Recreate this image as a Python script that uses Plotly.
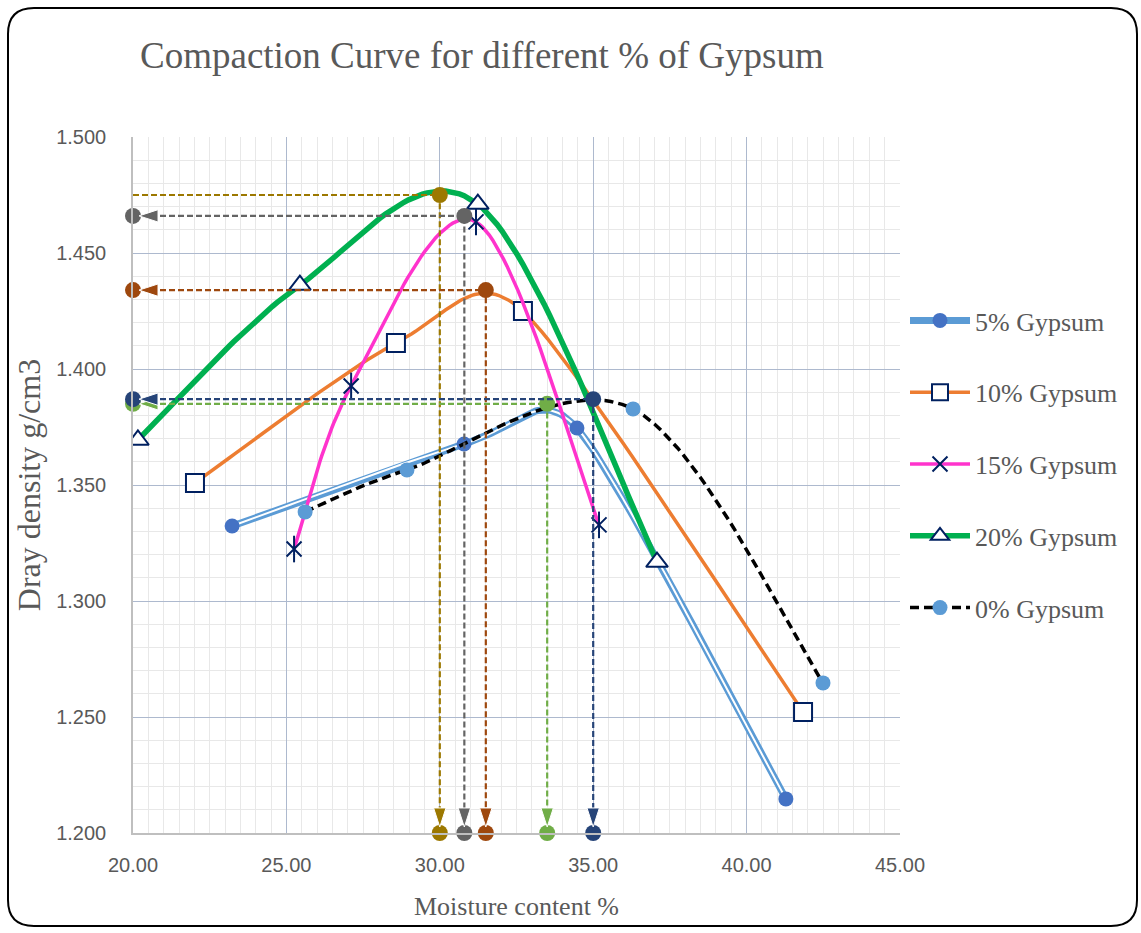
import numpy as np
import plotly.graph_objects as go

# ---- compaction test results: moisture content (%) vs dry density (g/cm3) ----
mc_5 = [23.23, 30.79, 34.47, 41.28]
dd_5 = [1.3323, 1.3677, 1.3746, 1.2147]

mc_10 = [22.02, 28.57, 32.71, 41.84]
dd_10 = [1.3509, 1.4112, 1.4250, 1.2522]

mc_15 = [25.25, 27.11, 31.18, 35.19]
dd_15 = [1.3224, 1.3927, 1.4634, 1.3328]

mc_20 = [20.16, 25.44, 31.24, 37.08]
dd_20 = [1.3694, 1.4362, 1.4711, 1.3168]

mc_0 = [25.61, 28.93, 36.30, 42.49]
dd_0 = [1.3384, 1.3565, 1.3828, 1.2647]

# optimum moisture content / maximum dry density
opt_labels = ["20%", "15%", "10%", "5%", "0%"]
opt_mc = [30.0, 30.8, 31.5, 33.5, 35.0]
opt_dd = [1.475, 1.466, 1.434, 1.385, 1.387]
opt_colors = ["#9C7800", "#646464", "#9E480E", "#70AD47", "#264478"]
opt_left_marker = [False, True, True, True, True]

x_range = [20, 45]
y_range = [1.2, 1.5]
x_ticks = [20, 25, 30, 35, 40, 45]
y_ticks = [1.20, 1.25, 1.30, 1.35, 1.40, 1.45, 1.50]

NAVY = "#002060"
SERIF = "Liberation Serif, Times New Roman, serif"
SANS = "Liberation Sans, Arial, sans-serif"
GREY_TXT = "#595959"

# figure geometry
W, H = 1141, 933
ML, MR, MT, MB = 133, 241, 137, 100
pw, ph = W - ML - MR, H - MT - MB


def smooth_curve(xs, ys, n=40):
    """Bezier smoothing through the measured points (Catmull-Rom style tangents,
    limited to half of the neighbouring segment), computed in screen space."""
    kx = pw / (x_range[1] - x_range[0])
    ky = ph / (y_range[1] - y_range[0])
    p = np.column_stack([np.asarray(xs, float) * kx, np.asarray(ys, float) * ky])
    m = len(p)
    ext = np.vstack([p[0], p, p[-1]])
    seg_len = np.linalg.norm(np.diff(p, axis=0), axis=1)
    tang = []
    for i in range(m):
        v = (ext[i + 2] - ext[i]) / 6
        halves = []
        if i > 0:
            halves.append(seg_len[i - 1] / 2)
        if i < m - 1:
            halves.append(seg_len[i] / 2)
        norm = np.linalg.norm(v)
        cap = min(halves)
        if norm > cap > 0:
            v = v * cap / norm
        tang.append(v)
    out = [p[0]]
    t = np.linspace(0, 1, n)[1:, None]
    for i in range(m - 1):
        p1, p2 = p[i], p[i + 1]
        c1, c2 = p1 + tang[i], p2 - tang[i + 1]
        seg = ((1 - t) ** 3) * p1 + 3 * ((1 - t) ** 2) * t * c1 \
            + 3 * (1 - t) * t ** 2 * c2 + t ** 3 * p2
        out.extend(seg)
    out = np.array(out)
    return out[:, 0] / kx, out[:, 1] / ky


fig = go.Figure()

series = [
    dict(name="5% Gypsum", x=mc_5, y=dd_5,
         lines=[dict(color="#5B9BD5", width=7), dict(color="white", width=2)],
         marker=dict(symbol="circle", size=15, color="#4472C4"),
         extra_marker=None),
    dict(name="10% Gypsum", x=mc_10, y=dd_10,
         lines=[dict(color="#ED7D31", width=3.5)],
         marker=dict(symbol="square", size=18, color="white", line=dict(color=NAVY, width=2)),
         extra_marker=None),
    dict(name="15% Gypsum", x=mc_15, y=dd_15,
         lines=[dict(color="#FF33CC", width=3.5)],
         marker=dict(symbol="x-thin-open", size=15, color=NAVY, line=dict(color=NAVY, width=2)),
         extra_marker=dict(symbol="line-ns-open", size=19, color=NAVY,
                           line=dict(color=NAVY, width=2))),
    dict(name="20% Gypsum", x=mc_20, y=dd_20,
         lines=[dict(color="#00B050", width=5.5)],
         marker=dict(symbol="triangle-up", size=19, color="white", line=dict(color=NAVY, width=2)),
         extra_marker=None),
    dict(name="0% Gypsum", x=mc_0, y=dd_0,
         lines=[dict(color="black", width=3.5, dash="9px,5px")],
         marker=dict(symbol="circle", size=15, color="#5B9BD5"),
         extra_marker=None),
]

for k, s in enumerate(series):
    grp = f"s{k}"
    sx, sy = smooth_curve(s["x"], s["y"])
    for ln in s["lines"]:
        fig.add_trace(go.Scatter(x=sx, y=sy, mode="lines", line=ln, legendgroup=grp,
                                 showlegend=False, hoverinfo="skip"))
    fig.add_trace(go.Scatter(x=s["x"], y=s["y"], mode="markers", marker=s["marker"],
                             name=s["name"], legendgroup=grp, showlegend=False))
    if s["extra_marker"] is not None:
        fig.add_trace(go.Scatter(x=s["x"], y=s["y"], mode="markers", marker=s["extra_marker"],
                                 legendgroup=grp, showlegend=False, hoverinfo="skip"))
    # legend entry (line + marker sample)
    fig.add_trace(go.Scatter(x=[None], y=[None], mode="lines+markers", name=s["name"],
                             line=s["lines"][0], marker=s["marker"], legendgroup=grp))

# optimum guide lines: horizontal to the density axis, vertical to the moisture axis
for lab, xo, yo, col, left in zip(opt_labels, opt_mc, opt_dd, opt_colors, opt_left_marker):
    fig.add_trace(go.Scatter(
        x=[x_range[0], xo, xo], y=[yo, yo, y_range[0]], mode="lines",
        showlegend=False, hoverinfo="skip",
        line=dict(color=col, width=2.2, dash="6px,3px"),
        cliponaxis=False,
    ))
    dots_x = ([x_range[0]] if left else []) + [xo, xo]
    dots_y = ([yo] if left else []) + [yo, y_range[0]]
    fig.add_trace(go.Scatter(
        x=dots_x, y=dots_y, mode="markers", showlegend=False, hoverinfo="skip",
        marker=dict(symbol="circle", size=16, color=col, opacity=1),
        cliponaxis=False,
    ))
    # arrow heads pointing at the axis markers
    arrow_paths = [([xo, xo], [yo, y_range[0]])]
    if left:
        arrow_paths.append(([xo, x_range[0]], [yo, yo]))
    for ax_, ay_ in arrow_paths:
        fig.add_trace(go.Scatter(
            x=ax_, y=ay_, mode="markers", showlegend=False, hoverinfo="skip",
            marker=dict(symbol="arrow", size=[0, 20], color=col, opacity=1,
                        angleref="previous", standoff=6),
            cliponaxis=False,
        ))


def px(xp):
    return (xp - ML) / pw


def py(yp):
    return (H - MB - yp) / ph


# rounded frame around the whole chart
x0, x1, y0, y1, r = 8, 1137, 8, 926, 26
frame = (
    f"M {px(x0 + r)},{py(y0)} L {px(x1 - r)},{py(y0)} "
    f"Q {px(x1)},{py(y0)} {px(x1)},{py(y0 + r)} "
    f"L {px(x1)},{py(y1 - r)} Q {px(x1)},{py(y1)} {px(x1 - r)},{py(y1)} "
    f"L {px(x0 + r)},{py(y1)} Q {px(x0)},{py(y1)} {px(x0)},{py(y1 - r)} "
    f"L {px(x0)},{py(y0 + r)} Q {px(x0)},{py(y0)} {px(x0 + r)},{py(y0)} Z"
)
fig.add_shape(type="path", path=frame, xref="paper", yref="paper",
              line=dict(color="black", width=2), layer="above")

fig.update_layout(
    width=W, height=H,
    margin=dict(l=ML, r=MR, t=MT, b=MB),
    paper_bgcolor="white", plot_bgcolor="white",
    title=dict(text="Compaction Curve for different % of Gypsum",
               font=dict(family=SERIF, size=37, color=GREY_TXT),
               xref="container", x=140 / W, xanchor="left",
               yref="container", y=1 - 55 / H, yanchor="middle"),
    legend=dict(x=px(905), xanchor="left", y=py(464), yanchor="middle",
                font=dict(family=SERIF, size=26, color=GREY_TXT),
                bgcolor="rgba(0,0,0,0)", tracegroupgap=35, traceorder="grouped",
                itemwidth=60),
    showlegend=True,
)

fig.update_xaxes(
    range=x_range, tickvals=x_ticks, tickformat=".2f",
    tickfont=dict(family=SANS, size=20, color=GREY_TXT),
    showgrid=True, gridcolor="#ADB9CE", gridwidth=1.3,
    minor=dict(dtick=0.5, showgrid=True, gridcolor="#E8E8E8", gridwidth=1),
    showline=True, linecolor="#BFBFBF", linewidth=1.5,
    zeroline=False, ticks="", ticklabelstandoff=13,
    title=dict(text="Moisture content %", font=dict(family=SERIF, size=26, color=GREY_TXT),
               standoff=22),
)
fig.update_yaxes(
    range=y_range, tickvals=y_ticks, tickformat=".3f",
    tickfont=dict(family=SANS, size=20, color=GREY_TXT),
    showgrid=True, gridcolor="#ADB9CE", gridwidth=1.3,
    minor=dict(dtick=0.01, showgrid=True, gridcolor="#E8E8E8", gridwidth=1),
    showline=True, linecolor="#BFBFBF", linewidth=1.5,
    zeroline=False, ticks="", ticklabelstandoff=21,
    title=dict(text="Dray density g/cm3", font=dict(family=SERIF, size=32, color=GREY_TXT),
               standoff=6),
)

fig.write_html("out.html")
